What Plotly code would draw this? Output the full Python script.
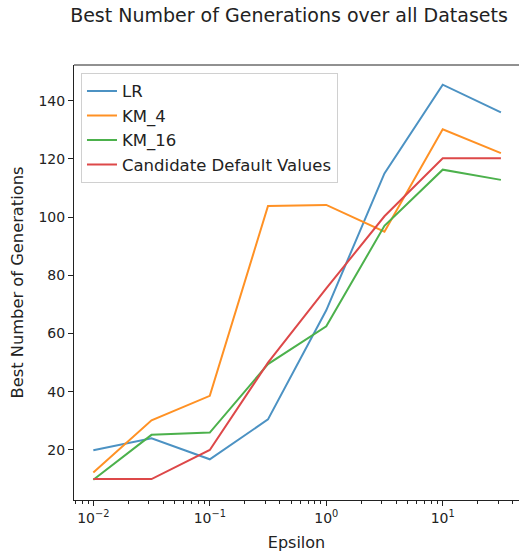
import plotly.graph_objects as go

epsilon = [0.01, 0.0316, 0.1, 0.316, 1, 3.16, 10, 31.6]
lr = [19.9, 24.0, 16.8, 30.5, 68.0, 115.0, 145.5, 136.0]
km_4 = [12.3, 30.2, 38.6, 103.8, 104.2, 95.0, 130.2, 122.0]
km_16 = [9.8, 25.2, 26.0, 49.5, 62.5, 97.0, 116.3, 112.8]
candidate = [10.0, 10.0, 20.0, 50.0, 75.5, 100.3, 120.2, 120.2]

series_names = ["LR", "KM_4", "KM_16", "Candidate Default Values"]
series_values = [lr, km_4, km_16, candidate]
colors = ["rgb(76,146,195)", "rgb(255,145,36)", "rgb(76,177,76)", "rgb(221,72,73)"]

x_tickvals = [0.01, 0.1, 1, 10]
x_ticktext = ["10<sup>\u22122</sup>", "10<sup>\u22121</sup>", "10<sup>0</sup>", "10<sup>1</sup>"]
x_minor = [m * d for d in [0.001, 0.01, 0.1, 1, 10] for m in range(2, 10)]
y_tickvals = [20, 40, 60, 80, 100, 120, 140]

font = "DejaVu Sans"
fig = go.Figure()
for name, vals, c in zip(series_names, series_values, colors):
    fig.add_trace(go.Scatter(x=epsilon, y=vals, mode="lines", name=name,
                             line=dict(color=c, width=2)))

fig.update_layout(
    width=519, height=552,
    margin=dict(l=74, r=0, t=65, b=52),
    paper_bgcolor="white", plot_bgcolor="white",
    font=dict(family=font, size=14, color="#222"),
    title=dict(text="Best Number of Generations over all Datasets",
               x=289/519, xanchor="center", y=1-15/552, yanchor="middle",
               font=dict(size=19, color="#222")),
    showlegend=True,
    legend=dict(x=0.0157, y=0.982, xanchor="left", yanchor="top",
                bgcolor="rgba(255,255,255,0.8)", bordercolor="#d0d0d0", borderwidth=1,
                font=dict(size=16.5), itemwidth=30, tracegroupgap=0),
    xaxis=dict(type="log", range=[-2.166, 1.655], tickvals=x_tickvals, ticktext=x_ticktext,
               showgrid=False, zeroline=False, showline=True, linecolor="#222", linewidth=1,
               ticks="outside", ticklen=5, tickcolor="#222", tickfont=dict(size=14),
               minor=dict(tickvals=x_minor, ticks="outside", ticklen=2.5, tickcolor="#222",
                          showgrid=False),
               title=dict(text="Epsilon", font=dict(size=16), standoff=13)),
    yaxis=dict(range=[2.82, 152.26], tickvals=y_tickvals,
               showgrid=False, zeroline=False, showline=True, linecolor="#222", linewidth=1,
               ticks="outside", ticklen=5, tickcolor="#222", tickfont=dict(size=14),
               title=dict(text="Best Number of Generations", font=dict(size=16.3), standoff=10)),
)
fig.add_shape(type="line", xref="paper", yref="paper", x0=0, x1=1, y0=1, y1=1,
              line=dict(color="#222", width=1))
fig.write_html("out.html")
